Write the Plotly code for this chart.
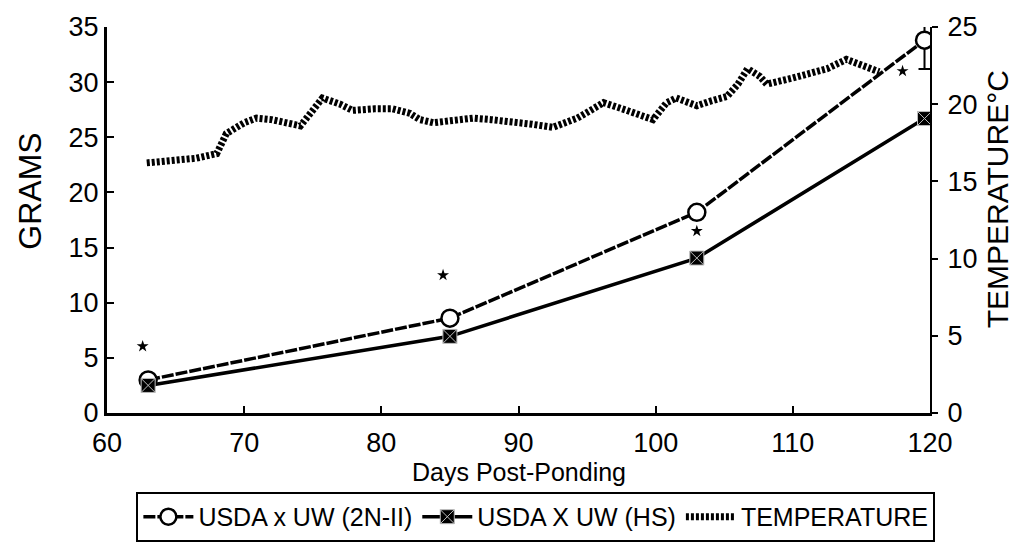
import plotly.graph_objects as go

# Fish weight by cross (grams) at each sampling day
sample_days = [63.0, 85.0, 103.0, 119.6]
grams_2n = [3.0, 8.6, 18.2, 33.8]
grams_hs = [2.5, 6.95, 14.05, 26.7]
err_2n_plus = [0, 0, 0, 1.6]
err_2n_minus = [0, 0, 0, 2.6]

# Significance markers
star_days = [62.6, 84.5, 103.0, 118.0]
star_grams = [6.05, 12.5, 16.5, 31.0]

# Pond water temperature (deg C)
temp_days = [62.9, 64.5, 66.5, 68.0, 68.7, 70.0, 70.9, 72.0, 73.1, 74.1, 75.0, 75.7,
             77.0, 77.9, 79.5, 80.8, 82.1, 82.8, 83.8, 85.5, 86.7, 88.0, 89.4, 91.0,
             92.5, 93.5, 94.3, 96.2, 97.0, 97.9, 99.8, 100.8, 101.5, 103.0, 104.0,
             105.2, 106.0, 106.7, 107.6, 108.1, 110.0, 112.5, 113.9, 114.9, 116.3]
temp_c = [16.2, 16.3, 16.5, 16.8, 18.1, 18.8, 19.1, 19.0, 18.8, 18.6, 19.6, 20.4,
          20.0, 19.6, 19.7, 19.7, 19.4, 19.0, 18.8, 19.0, 19.1, 19.0, 18.9, 18.7,
          18.5, 18.8, 19.1, 20.1, 19.9, 19.6, 19.0, 20.1, 20.4, 19.9, 20.2,
          20.5, 21.3, 22.3, 21.8, 21.3, 21.7, 22.3, 22.9, 22.6, 22.1]

x_ticks = [60, 70, 80, 90, 100, 110, 120]
gram_ticks = [0, 5, 10, 15, 20, 25, 30, 35]
temp_ticks = [0, 5, 10, 15, 20, 25]

FONT = "Liberation Sans, Arial, Helvetica, sans-serif"

fig = go.Figure()

fig.add_trace(go.Scatter(
    x=sample_days, y=grams_2n, mode="lines+markers", name="USDA x UW (2N-II)",
    line=dict(color="black", width=3.5, dash="12px,2px"),
    marker=dict(symbol="circle", size=17, color="white",
                line=dict(color="black", width=2.5)),
    error_y=dict(type="data", symmetric=False, array=err_2n_plus,
                 arrayminus=err_2n_minus, color="black", thickness=2, width=6),
))

fig.add_trace(go.Scatter(
    x=sample_days, y=grams_hs, mode="lines+markers", name="USDA X UW (HS)",
    line=dict(color="black", width=3.5),
    marker=dict(symbol="square-x", size=14, color="black",
                line=dict(color="#bbbbbb", width=1)),
))

fig.add_trace(go.Scatter(
    x=temp_days, y=temp_c, mode="lines", name="TEMPERATURE", yaxis="y2",
    line=dict(color="black", width=7, dash="3px,2px"),
))

fig.add_trace(go.Scatter(
    x=star_days, y=star_grams, mode="markers", showlegend=False,
    marker=dict(symbol="star", size=9, color="black"),
))

fig.update_layout(
    width=1013, height=546,
    margin=dict(l=107, r=83, t=20, b=133),
    plot_bgcolor="white", paper_bgcolor="white",
    font=dict(family=FONT, size=26, color="black"),
    showlegend=True,
    legend=dict(
        orientation="h", xref="container", yref="container",
        x=0.529, xanchor="center", y=0.099, yanchor="top",
        bordercolor="black", borderwidth=2, font=dict(size=25, family=FONT),
        itemwidth=50, tracegroupgap=0,
    ),
    xaxis=dict(
        range=[60, 120], tickvals=x_ticks, ticks="inside", ticklen=7,
        tickwidth=2, tickcolor="black", showline=True, linewidth=3,
        linecolor="black", showgrid=False, zeroline=False,
        ticklabelstandoff=4, tickfont=dict(size=27),
    ),
    yaxis=dict(
        range=[0, 35], tickvals=gram_ticks, ticks="inside", ticklen=7,
        tickwidth=2, tickcolor="black", showline=True, linewidth=3,
        linecolor="black", showgrid=False, zeroline=False,
        tickfont=dict(size=27),
    ),
    yaxis2=dict(
        range=[0, 25], tickvals=temp_ticks, overlaying="y", side="right",
        ticks="outside", ticklen=6, tickwidth=2, tickcolor="black",
        showline=True, linewidth=2, linecolor="black", showgrid=False,
        zeroline=False, tickfont=dict(size=27), ticklabelstandoff=4,
    ),
    annotations=[
        dict(text="Days Post-Ponding", x=0.5, y=-0.153, xref="paper", yref="paper",
             xanchor="center", yanchor="middle", showarrow=False,
             font=dict(size=25, family=FONT)),
        dict(text="GRAMS", x=-0.094, y=0.575, xref="paper", yref="paper",
             xanchor="center", yanchor="middle", textangle=-90, showarrow=False,
             font=dict(size=32, family=FONT)),
        dict(text="TEMPERATURE°C", x=1.082, y=0.555, xref="paper", yref="paper",
             xanchor="center", yanchor="middle", textangle=-90, showarrow=False,
             font=dict(size=30, family=FONT)),
    ],
)

fig.write_html("out.html")
